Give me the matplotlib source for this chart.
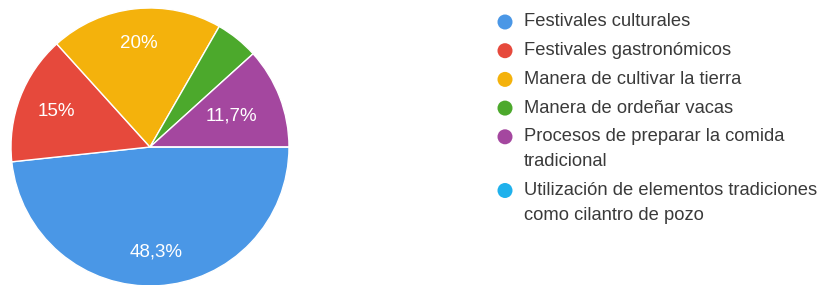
import matplotlib
matplotlib.use("Agg")
import matplotlib.pyplot as plt
from matplotlib.patches import Circle
import numpy as np

categories = [
    "Festivales culturales",
    "Festivales gastronómicos",
    "Manera de cultivar la tierra",
    "Manera de ordeñar vacas",
    "Procesos de preparar la comida\ntradicional",
    "Utilización de elementos tradiciones\ncomo cilantro de pozo",
]
values = [48.3, 15.0, 20.0, 5.0, 11.7, 0.0]
pct_labels = ["48,3%", "15%", "20%", "", "11,7%", ""]
colors = ["#4a97e6", "#e6493c", "#f4b20c", "#4ca92c", "#a4479f", "#1fb1ec"]
label_dist = [0.76, 0.72, 0.75, 0.7, 0.63, 0.7]

FONT = "Liberation Sans"
W, H = 827, 285
fig = plt.figure(figsize=(W / 100, H / 100), dpi=100)
fig.patch.set_facecolor("white")

cx, cy, r = 150, 147, 139
ax = fig.add_axes([(cx - r) / W, (H - cy - r) / H, 2 * r / W, 2 * r / H])
wedges, _ = ax.pie(values, colors=colors, startangle=0, counterclock=False,
                   radius=1.0, wedgeprops=dict(edgecolor="white", linewidth=1.0))
ax.set_xlim(-1, 1)
ax.set_ylim(-1, 1)
ax.set_aspect("equal")
ax.axis("off")

for w, lab, d in zip(wedges, pct_labels, label_dist):
    if not lab:
        continue
    ang = np.deg2rad((w.theta1 + w.theta2) / 2)
    ax.text(d * np.cos(ang), d * np.sin(ang), lab, ha="center", va="center",
            color="white", fontsize=13.5, family=FONT)

# legend
lax = fig.add_axes([0, 0, 1, 1])
lax.set_xlim(0, W)
lax.set_ylim(H, 0)
lax.axis("off")
y = 22.0
for lab, col in zip(categories, colors):
    lax.add_patch(Circle((505, y), 7.5, color=col, lw=0))
    lines = lab.split("\n")
    for i, line in enumerate(lines):
        lax.text(524, y + i * 25, line, ha="left", va="center", fontsize=13.2,
                 family=FONT, color="#3a3a3a")
    y += 28.7 + 25 * (len(lines) - 1)

fig.savefig("out.png", dpi=100, facecolor="white")
